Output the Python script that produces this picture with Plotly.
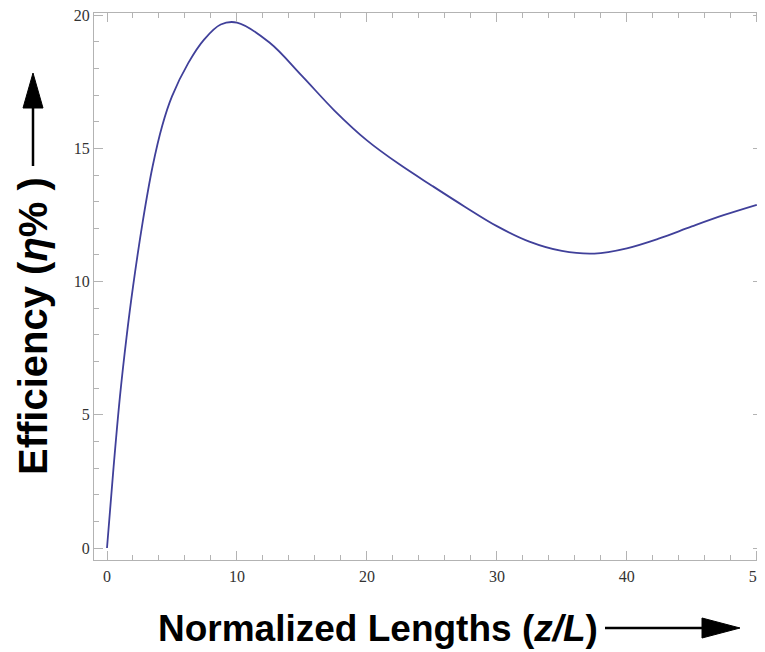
import plotly.graph_objects as go

# Data
z_vals = [0, 0.5, 1, 1.5, 2, 2.75, 3.5, 4.25, 5, 6.25, 7.5, 8.75, 10, 12.5, 15, 17.5,
          20, 22.5, 25, 27.5, 30, 32.5, 35, 37.5, 40, 42.5, 45, 47.5, 50]
eta_vals = [0, 3.0, 5.7, 7.9, 9.8, 12.25, 14.3, 15.85, 16.95, 18.2, 19.1, 19.65, 19.72,
            18.97, 17.72, 16.42, 15.3, 14.4, 13.6, 12.82, 12.08, 11.5, 11.15, 11.05,
            11.25, 11.62, 12.07, 12.5, 12.88]
x_ticks = [0, 10, 20, 30, 40, 50]
y_ticks = [0, 5, 10, 15, 20]
x_title = "Normalized Lengths (<i>z/L</i>)"
y_title = "Efficiency (<i>η</i>% )"

# The page body has an 8px default margin; page coordinates below are absolute.
OFF = 8
W, H = 765 - OFF, 652 - OFF
PL, PR, PT, PB = 94, 762, 13, 560          # plot frame in page pixels
L, T = PL - OFF, PT - OFF
R = W - (PR - OFF)
B = H - (PB - OFF)
PW, PH = PR - PL, PB - PT


def px(x):
    return (x - PL) / PW


def py(y):
    return (PB - y) / PH


fig = go.Figure()
fig.add_trace(go.Scatter(
    x=z_vals, y=eta_vals, mode="lines",
    line=dict(color="#40409a", width=1.8, shape="spline", smoothing=1.0),
    hoverinfo="skip", showlegend=False,
))

frame = "#b3b3b3"
axis_common = dict(
    showgrid=False, zeroline=False, showline=True, linecolor=frame, linewidth=1,
    mirror="ticks", ticks="inside", ticklen=9, tickcolor=frame, tickwidth=1,
    tickfont=dict(family="Liberation Serif", size=16, color="#333"),
    ticklabeloverflow="allow", automargin=False,
)
fig.update_xaxes(range=[-1.0, 50.4], tickvals=x_ticks, ticklabelstandoff=2,
                 minor=dict(dtick=2, tick0=0, ticks="inside", ticklen=5, tickcolor=frame),
                 **axis_common)
fig.update_yaxes(range=[-0.45, 20.08], tickvals=y_ticks,
                 minor=dict(dtick=1, tick0=0, ticks="inside", ticklen=5, tickcolor=frame),
                 **axis_common)

annotations = [
    dict(text="<b>" + x_title + "</b>", x=px(378), y=py(628), xref="paper", yref="paper",
         showarrow=False, font=dict(family="Liberation Sans", size=37, color="black"),
         xanchor="center", yanchor="middle"),
    dict(text="<b>" + y_title + "</b>", x=px(33), y=py(326), xref="paper", yref="paper",
         showarrow=False, font=dict(family="Liberation Sans", size=40, color="black"),
         xanchor="center", yanchor="middle", textangle=-90),
]

shapes = [
    # x arrow
    dict(type="line", xref="paper", yref="paper", x0=px(605), x1=px(706),
         y0=py(628), y1=py(628), line=dict(color="black", width=2.5)),
    dict(type="path", xref="paper", yref="paper",
         path=f"M {px(702)} {py(618)} L {px(740)} {py(628)} L {px(702)} {py(638)} Z",
         fillcolor="black", line=dict(color="black", width=1)),
    # y arrow
    dict(type="line", xref="paper", yref="paper", x0=px(33), x1=px(33),
         y0=py(166), y1=py(104), line=dict(color="black", width=2.5)),
    dict(type="path", xref="paper", yref="paper",
         path=f"M {px(23)} {py(108)} L {px(33)} {py(73)} L {px(43)} {py(108)} Z",
         fillcolor="black", line=dict(color="black", width=1)),
]

fig.update_layout(
    width=W, height=H, margin=dict(l=L, r=R, t=T, b=B, pad=0, autoexpand=False),
    paper_bgcolor="white", plot_bgcolor="white",
    annotations=annotations, shapes=shapes,
)
fig.write_html("out.html")
